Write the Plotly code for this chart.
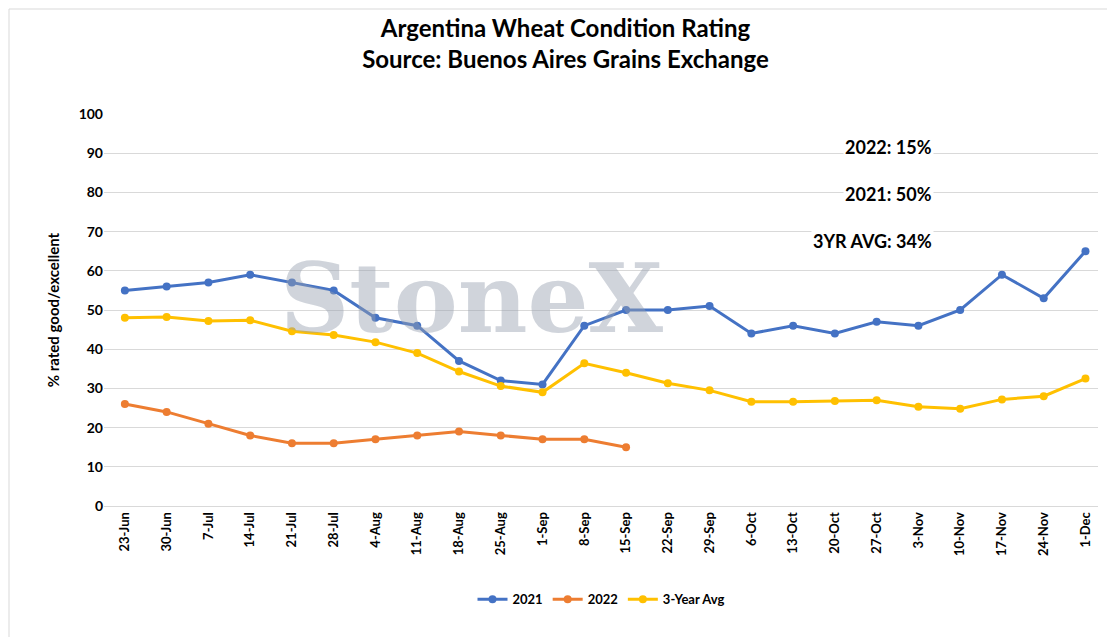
import plotly.graph_objects as go

weeks = ["23-Jun", "30-Jun", "7-Jul", "14-Jul", "21-Jul", "28-Jul", "4-Aug", "11-Aug",
         "18-Aug", "25-Aug", "1-Sep", "8-Sep", "15-Sep", "22-Sep", "29-Sep", "6-Oct",
         "13-Oct", "20-Oct", "27-Oct", "3-Nov", "10-Nov", "17-Nov", "24-Nov", "1-Dec"]
y2021 = [55, 56, 57, 59, 57, 55, 48, 46, 37, 32, 31, 46, 50, 50, 51, 44, 46, 44, 47, 46, 50, 59, 53, 65]
y2022 = [26, 24, 21, 18, 16, 16, 17, 18, 19, 18, 17, 17, 15]
avg3 = [48, 48.2, 47.2, 47.4, 44.6, 43.6, 41.8, 39, 34.3, 30.6, 29, 36.4, 34, 31.3, 29.5,
        26.6, 26.6, 26.8, 27, 25.3, 24.8, 27.2, 28, 32.5]

font = "Lato"
W, H, L, R, T, B = 1115, 637, 96, 25, 106, 139
pw, ph = W - L - R, H - T - B

fig = go.Figure()
for name, ys, col in [("2021", y2021, "#4472C4"), ("2022", y2022, "#ED7D31"), ("3-Year Avg", avg3, "#FFC000")]:
    fig.add_trace(go.Scatter(x=weeks[:len(ys)], y=ys, name=name, mode="lines+markers",
                             line=dict(color=col, width=3), marker=dict(size=8, color=col)))

fig.update_layout(
    width=W, height=H, plot_bgcolor="white", paper_bgcolor="white",
    font=dict(family=font, color="black", size=13),
    title=dict(text="<b>Argentina Wheat Condition Rating<br>Source: Buenos Aires Grains Exchange</b>",
               x=0.5, y=0.955, yanchor="top", xanchor="center", font=dict(size=24)),
    margin=dict(l=L, r=R, t=T, b=B),
    legend=dict(orientation="h", x=0.5, xanchor="center", y=-0.2, yanchor="top",
                font=dict(size=13, weight="bold")),
    xaxis=dict(tickangle=-90, showgrid=False, showline=True, linecolor="#d9d9d9",
               tickfont=dict(size=13, family=font, weight="bold"), range=[-0.5, 23.3]),
    yaxis=dict(range=[0, 100], dtick=10, gridcolor="#d9d9d9", zeroline=False,
               title=dict(text="% rated good/excellent", font=dict(size=15, weight="bold")),
               tickfont=dict(size=14, weight="bold")),
)
# watermark
fig.add_annotation(text="<b>StoneX</b>", x=0.37, y=0.53, xref="paper", yref="paper", showarrow=False,
                   font=dict(family="DejaVu Serif", size=96, color="rgba(150,160,175,0.45)"))
for txt, yy in [("2022: 15%", 0.95), ("2021: 50%", 0.83), ("3YR AVG: 34%", 0.71)]:
    fig.add_annotation(text=txt, x=0.835, y=yy, xref="paper", yref="paper", showarrow=False,
                       font=dict(size=18, weight="bold"), bgcolor="white")
fig.add_shape(type="rect", xref="paper", yref="paper", x0=-(L - 1) / pw, x1=1 + (R - 1) / pw,
              y0=-(B - 1) / ph, y1=1 + (T - 1) / ph, line=dict(color="#d9d9d9", width=1))
fig.write_html("out.html")
